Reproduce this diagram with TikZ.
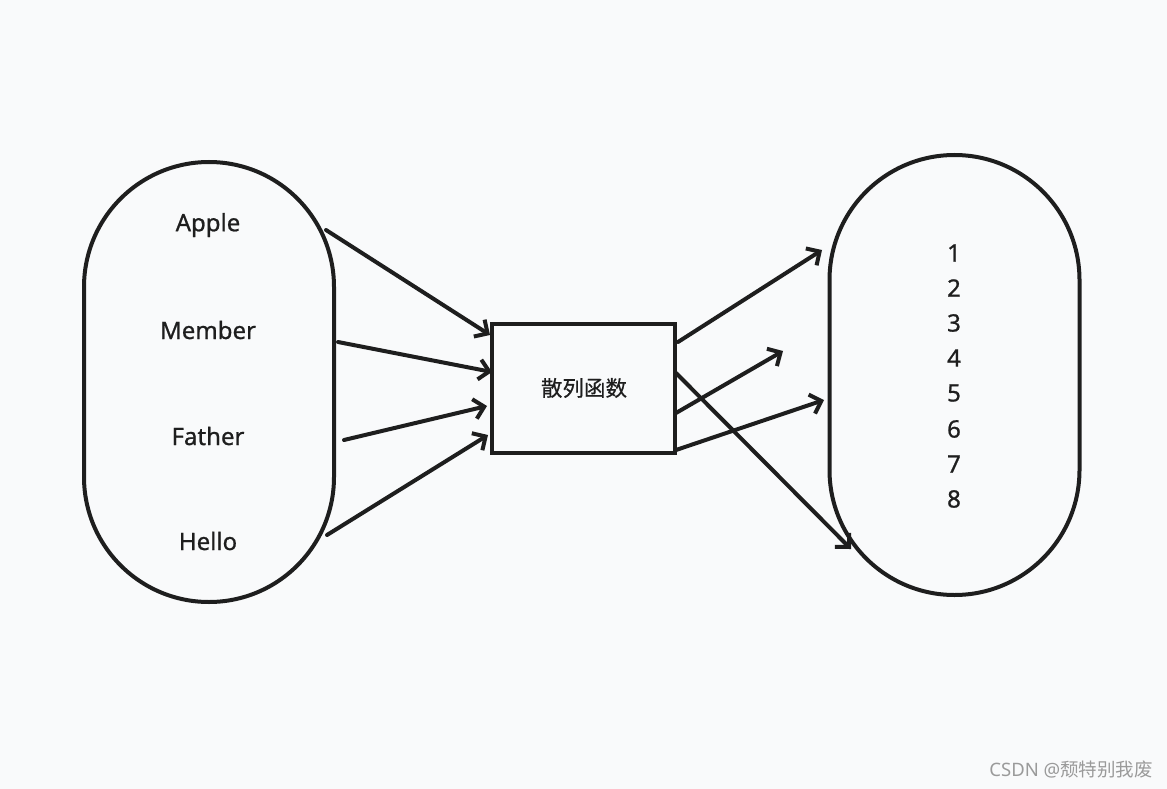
\documentclass[tikz,border=0pt]{standalone}
\usepackage{fontspec}
\setmainfont{Noto Sans}
\newfontfamily\med{Noto Sans}[FakeBold=0.9]
\newfontfamily\cjk{Noto Sans CJK SC}
\newfontfamily\cjkmed{Noto Sans CJK SC}[FakeBold=0.6]
\usetikzlibrary{arrows.meta}
\definecolor{bg}{HTML}{F9FAFB}
\definecolor{ink}{HTML}{1E1E1E}
\definecolor{wm}{HTML}{9A9A9A}
\begin{document}
\begin{tikzpicture}[x=1pt,y=-1pt,
  stroke/.style={draw=ink, line width=4pt},
  stadium/.style={stroke, minimum width=250pt, minimum height=440pt, rounded corners=125pt, inner sep=0pt},
  lbl/.style={text=ink, font=\med\fontsize{24}{28}\selectfont, inner sep=0pt},
  conn/.style={draw=ink, line width=4pt, line cap=round, line join=round, -{Straight Barb[length=10pt,width=20pt,line width=4pt]}}]
\useasboundingbox[fill=bg] (0,0) rectangle (1167,789);
\node[stadium] (L) at (209,382) {};
\node[stadium] (R) at (954.5,375) {};
\node[stroke, line width=3.4pt, minimum width=183pt, minimum height=129pt, inner sep=0pt] (H) at (583.5,388.5) {};
\node[text=ink, font=\cjkmed\fontsize{21.5}{24}\selectfont] (Ht) at (584,388) {散列函数};
\node[lbl] (w1) at (208,225) {Apple};
\node[lbl] (w2) at (208,330) {Member};
\node[lbl] (w3) at (208,436) {Father};
\node[lbl] (w4) at (208,541) {Hello};
\foreach \n/\y in {1/253,2/288,3/323,4/358,5/393,6/429,7/464,8/499}
  \node[lbl] (d\n) at (954,\y) {\n};
% arrow endpoints
\coordinate (s1) at (326,230); \coordinate (t1) at (490,335);
\coordinate (s2) at (338,342); \coordinate (t2) at (492,372);
\coordinate (s3) at (344,440); \coordinate (t3) at (487,406);
\coordinate (s4) at (327,535); \coordinate (t4) at (488,435);
\coordinate (s5) at (678,342); \coordinate (t5) at (822,250);
\coordinate (s6) at (676,413); \coordinate (t6) at (783,351);
\coordinate (s7) at (676,450); \coordinate (t7) at (824,400);
\coordinate (s8) at (676,373); \coordinate (t8) at (851,549);
\foreach \i in {1,...,8} \draw[conn] (s\i) -- (t\i);
\node[text=wm, font=\fontsize{18.5}{22}\selectfont, anchor=east, inner sep=0pt] (wm) at (1153,770) {CSDN @{\cjk 颓特别我废}};
\end{tikzpicture}
\end{document}
